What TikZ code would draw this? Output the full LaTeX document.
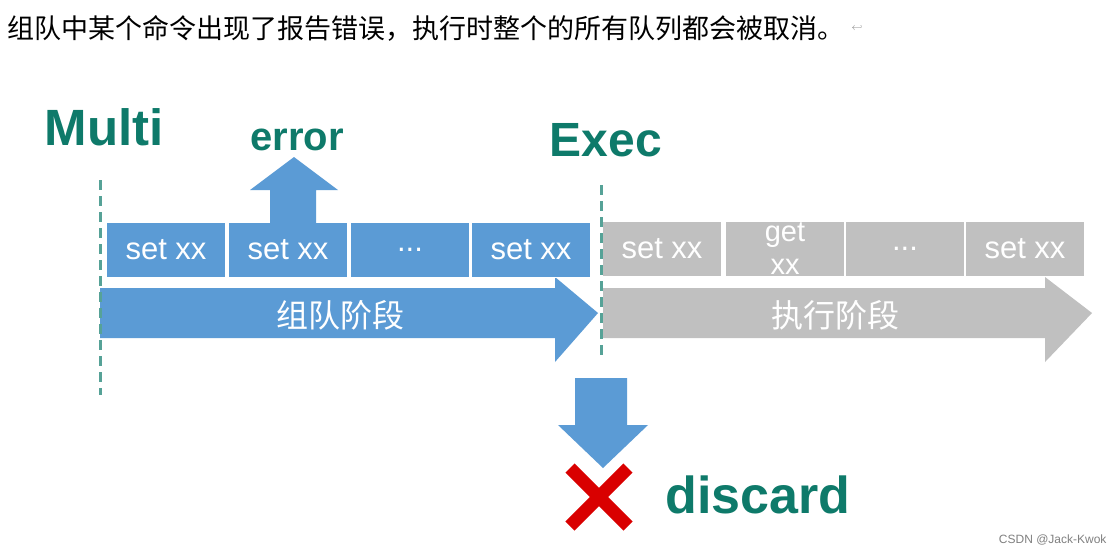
\documentclass[tikz,border=0pt]{standalone}
\usepackage{fontspec}
\setmainfont{Liberation Sans}
\newfontfamily\cjk{Noto Sans CJK SC}
\usetikzlibrary{positioning}
\definecolor{teal1}{HTML}{0E7A6A}
\definecolor{blue1}{HTML}{5B9BD5}
\definecolor{grey1}{HTML}{C0C0C0}
\begin{document}
\begin{tikzpicture}[x=1pt,y=-1pt]
  \tikzset{BoxStyle/.style = {
    shape         = rectangle,
    fill          = blue1,
    draw          = white,
    line width    = 1pt,
    text          = white,
    minimum width = 119pt,
    minimum height= 55pt,
    font          = \fontsize{31}{31}\selectfont
    }
  }
  \tikzset{GreyBoxStyle/.style = {BoxStyle, fill = grey1}}
  \tikzset{TitleStyle/.style = {
    text = teal1, font = \fontsize{48}{48}\selectfont\bfseries
    }
  }
  \tikzset{PhaseStyle/.style = {
    dash pattern = on 10pt off 6pt, line width = 3pt, draw = teal1!70!white
    }
  }
  \useasboundingbox[fill=white] (0,0) rectangle (1115,555);

  \node[anchor=west, font=\cjk\fontsize{27}{27}\selectfont](head) at (4,28)
    {组队中某个命令出现了报告错误，执行时整个的所有队列都会被取消。};
  \node[right=0pt of head, text=gray, font=\fontsize{10}{10}\selectfont]{$\hookleftarrow$};

  \node[TitleStyle, font=\fontsize{51}{51}\selectfont\bfseries](multi) at (104,127) {Multi};
  \node[TitleStyle](exec) at (606,140) {Exec};
  \node[TitleStyle, font=\fontsize{40}{40}\selectfont\bfseries](err) at (297,140) {error};
  \node[TitleStyle, font=\fontsize{52}{52}\selectfont\bfseries, anchor=west](disc) at (662,495) {discard};

  % queue arrows
  \fill[blue1] (100,288) -- (555,288) -- (555,277) -- (598,313) -- (555,362) -- (555,338) -- (100,338) -- cycle;
  \fill[grey1] (603,288) -- (1045,288) -- (1045,277) -- (1092,313) -- (1045,362) -- (1045,338) -- (603,338) -- cycle;
  \node[text=white, font=\cjk\fontsize{32}{32}\selectfont](qa) at (340,315) {组队阶段};
  \node[text=white, font=\cjk\fontsize{32}{32}\selectfont](qb) at (835,315) {执行阶段};

  % commands
  \node[BoxStyle](c1) at (166,250) {set xx};
  \node[BoxStyle](c2) at (288,250) {set xx};
  \node[BoxStyle](c3) at (410,250) {...};
  \node[BoxStyle](c4) at (531,250) {set xx};
  \node[GreyBoxStyle](d1) at (662,249) {set xx};
  \node[GreyBoxStyle, align=center, inner ysep=0pt, font=\fontsize{29}{33}\selectfont](d2) at (785,249) {get\\xx};
  \node[GreyBoxStyle](d3) at (905,249) {...};
  \node[GreyBoxStyle](d4) at (1025,249) {set xx};

  % up / down arrows
  \fill[blue1] (270,225) -- (270,190) -- (250,190) -- (294,157) -- (338,190) -- (316,190) -- (316,225) -- cycle;
  \fill[blue1] (575,378) -- (627,378) -- (627,425) -- (648,425) -- (603,468) -- (558,425) -- (575,425) -- cycle;
  \draw[red!85!black, line width=13pt] (570,468) -- (628,526) (628,468) -- (570,526);

  \draw[PhaseStyle] (100,180) -- (100,395);
  \draw[PhaseStyle] (601,185) -- (601,360);

  \node[anchor=east, text=gray, font=\fontsize{12}{12}\selectfont](src) at (1110,540) {CSDN @Jack-Kwok};
\end{tikzpicture}
\end{document}
